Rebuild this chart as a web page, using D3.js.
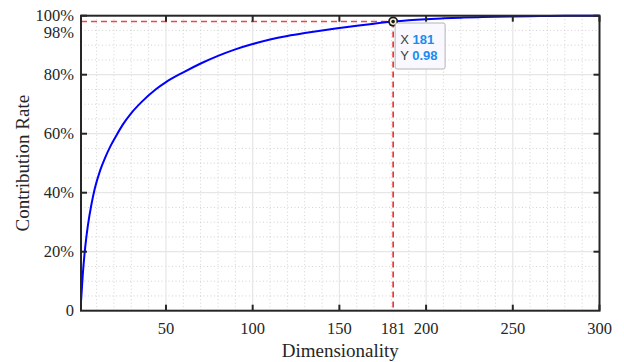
<!DOCTYPE html>
<html>
<head>
<meta charset="utf-8">
<script src="https://cdn.jsdelivr.net/npm/d3@7"></script>
<style>
  body { margin: 0; background: #fff; }
  svg { display: block; }
  text { font-family: "Liberation Serif", "Times New Roman", serif; fill: #262626; }
</style>
</head>
<body>
<svg id="chart" width="624" height="362"></svg>
<script>
// cumulative contribution rate
const dims = [1, 2, 3, 4, 5, 7, 9, 12, 15, 18, 21, 25, 30, 36, 44, 50, 60, 70, 80, 90, 100, 110, 120, 130, 140, 150, 160, 170, 181, 190, 200, 210, 220, 230, 240, 250, 260, 270, 280, 290, 300]
const rates = [0.03, 0.12, 0.19, 0.245, 0.29, 0.36, 0.415, 0.475, 0.52, 0.558, 0.59, 0.63, 0.67, 0.708, 0.75, 0.775, 0.808, 0.838, 0.864, 0.886, 0.904, 0.919, 0.931, 0.941, 0.95, 0.958, 0.966, 0.973, 0.98, 0.9845, 0.9882, 0.991, 0.9932, 0.995, 0.9964, 0.9975, 0.9984, 0.9991, 0.9996, 0.9999, 1.0]

const xTicks = [50, 100, 150, 181, 200, 250, 300]
const yTicks = [0, 0.2, 0.4, 0.6, 0.8, 0.98, 1.0]
const yTickLabels = ["0", "20%", "40%", "60%", "80%", "98%", "100%"]
const xGridMajor = [50, 100, 150, 200, 250, 300]
const yGridMajor = [0.2, 0.4, 0.6, 0.8, 1.0]
const pick = { x: 181, y: 0.98 }

const M = { left: 81, right: 599.5, top: 15.7, bottom: 310.7 }
const svg = d3.select("#chart")

const x = d3.scaleLinear().domain([1, 300]).range([M.left, M.right])
const y = d3.scaleLinear().domain([0, 1]).range([M.bottom, M.top])

// minor dotted grid
const xMinor = d3.range(10, 300, 10).filter(v => v % 50 !== 0)
const yMinor = d3.range(0.05, 1, 0.05).filter(v => Math.abs(v * 5 - Math.round(v * 5)) > 1e-6)
svg.append("g").selectAll("line").data(xMinor).enter().append("line")
  .attr("x1", d => x(d)).attr("x2", d => x(d))
  .attr("y1", M.top).attr("y2", M.bottom)
  .attr("stroke", "#c8c8c8").attr("stroke-width", 0.8).attr("stroke-dasharray", "1,2.5")
svg.append("g").selectAll("line").data(yMinor).enter().append("line")
  .attr("x1", M.left).attr("x2", M.right)
  .attr("y1", d => y(d)).attr("y2", d => y(d))
  .attr("stroke", "#c8c8c8").attr("stroke-width", 0.8).attr("stroke-dasharray", "1,2.5")

// major grid
svg.append("g").selectAll("line").data(xGridMajor).enter().append("line")
  .attr("x1", d => x(d)).attr("x2", d => x(d))
  .attr("y1", M.top).attr("y2", M.bottom)
  .attr("stroke", "#e6e6e6").attr("stroke-width", 1.2)
svg.append("g").selectAll("line").data(yGridMajor).enter().append("line")
  .attr("x1", M.left).attr("x2", M.right)
  .attr("y1", d => y(d)).attr("y2", d => y(d))
  .attr("stroke", "#e6e6e6").attr("stroke-width", 1.2)

// red dashed guides
svg.append("line")
  .attr("x1", x(1)).attr("x2", x(pick.x))
  .attr("y1", y(pick.y)).attr("y2", y(pick.y))
  .attr("stroke", "#f04545").attr("stroke-width", 1.5).attr("stroke-dasharray", "6,4")
svg.append("line")
  .attr("x1", x(pick.x)).attr("x2", x(pick.x))
  .attr("y1", y(pick.y)).attr("y2", M.bottom)
  .attr("stroke", "#e82020").attr("stroke-width", 1.5).attr("stroke-dasharray", "6,4")

// the curve
const line = d3.line().x((d, i) => x(dims[i])).y(d => y(d)).curve(d3.curveMonotoneX)
svg.append("path")
  .datum(rates)
  .attr("d", line)
  .attr("fill", "none")
  .attr("stroke", "#0000ff")
  .attr("stroke-width", 2)

// box and inward ticks
const TICK = 6
const ax = svg.append("g").attr("stroke", "#262626").attr("stroke-width", 2)
ax.append("rect")
  .attr("x", M.left).attr("y", M.top)
  .attr("width", M.right - M.left).attr("height", M.bottom - M.top)
  .attr("fill", "none")
xGridMajor.forEach(v => {
  ax.append("line").attr("x1", x(v)).attr("x2", x(v)).attr("y1", M.bottom).attr("y2", M.bottom - TICK)
  ax.append("line").attr("x1", x(v)).attr("x2", x(v)).attr("y1", M.top).attr("y2", M.top + TICK)
})
yGridMajor.forEach(v => {
  ax.append("line").attr("x1", M.left).attr("x2", M.left + TICK).attr("y1", y(v)).attr("y2", y(v))
  ax.append("line").attr("x1", M.right).attr("x2", M.right - TICK).attr("y1", y(v)).attr("y2", y(v))
})

// tick labels
svg.append("g").selectAll("text").data(xTicks).enter().append("text")
  .attr("x", d => x(d)).attr("y", 334)
  .attr("text-anchor", "middle").attr("font-size", "16.5px")
  .text(d => d)
svg.append("g").selectAll("text").data(yTicks).enter().append("text")
  .attr("x", 74)
  .attr("y", d => d === 0.98 ? y(d) + 16 : (d === 1 ? y(d) + 5 : y(d) + 5.5))
  .attr("text-anchor", "end").attr("font-size", "16.5px")
  .text((d, i) => yTickLabels[i])

// axis titles
svg.append("text")
  .attr("x", (M.left + M.right) / 2).attr("y", 357)
  .attr("text-anchor", "middle").attr("font-size", "19px")
  .text("Dimensionality")
svg.append("text")
  .attr("transform", `translate(29,${(M.top + M.bottom) / 2}) rotate(-90)`)
  .attr("text-anchor", "middle").attr("font-size", "19px")
  .text("Contribution Rate")

// data tip
const px = x(pick.x), py = y(pick.y)
svg.append("circle").attr("cx", px).attr("cy", py).attr("r", 5).attr("fill", "#1a1a1a")
svg.append("circle").attr("cx", px).attr("cy", py).attr("r", 3.3).attr("fill", "#f3efcf")
svg.append("circle").attr("cx", px).attr("cy", py).attr("r", 1.8).attr("fill", "#1a1a1a")

const tip = svg.append("g").attr("transform", `translate(${px + 2},23)`)
tip.append("rect")
  .attr("width", 50).attr("height", 46).attr("rx", 2)
  .attr("fill", "#f8f8fe").attr("stroke", "#b4b4b4").attr("stroke-width", 1)
const tipRows = [["X", String(pick.x)], ["Y", String(pick.y)]]
tipRows.forEach((r, i) => {
  const t = tip.append("text").attr("x", 5).attr("y", 21 + i * 16)
    .style("font-family", "'Liberation Sans', Arial, sans-serif").attr("font-size", "13px")
  t.append("tspan").style("fill", "#404040").text(r[0] + " ")
  t.append("tspan").style("fill", "#1a8cf0").attr("font-weight", "bold").text(r[1])
})
</script>
</body>
</html>
